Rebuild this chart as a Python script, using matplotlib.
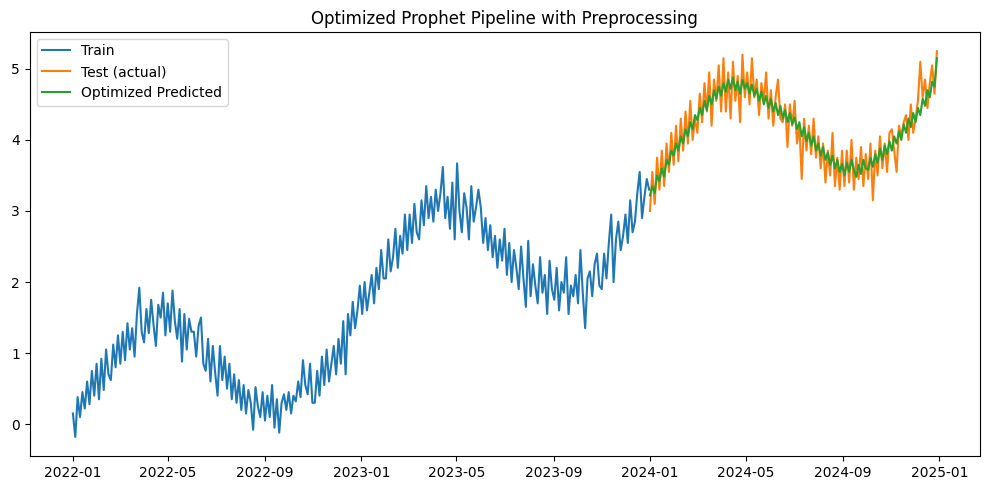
#!/usr/bin/env python3
"""Plot train / test / predicted series of the optimized Prophet pipeline"""
import pandas as pd
import matplotlib
matplotlib.use("Agg")
import matplotlib.pyplot as plt

train_start = "2022-01-01"
train_values = [
    # 2022-01 .. 2022-06
    0.15, -0.18, 0.38, 0.10, 0.45, 0.22, 0.60, 0.28, 0.75, 0.40, 0.85,
    0.35, 0.92, 0.48, 1.05, 0.70, 0.62, 1.12, 0.80, 1.25,
    0.85, 1.30, 0.90, 1.42, 1.05, 1.35, 0.95, 1.55, 1.92, 1.30,
    1.15, 1.62, 1.28, 1.75, 1.40, 1.10, 1.68, 1.50, 1.85, 1.25,
    1.70, 1.30, 1.88, 1.45, 1.20, 1.62, 0.88, 1.55, 1.05, 1.48, 1.30,
    1.30, 0.95, 1.38, 1.50, 0.85, 0.75, 1.20, 0.60, 1.10, 0.72,
    # 2022-07 .. 2022-12
    0.40, 1.10, 0.62, 0.95, 0.50, 0.85, 0.35, 0.70, 0.30, 0.62,
    0.20, 0.55, 0.15, 0.48, 0.30, -0.08, 0.52, 0.25, 0.10, 0.45,
    0.05, 0.40, 0.10, 0.55, -0.05, 0.35, -0.12, 0.30, 0.42, 0.20,
    0.45, 0.15, 0.40, 0.32, 0.60, 0.38, 0.90, 0.55, 0.42, 0.85, 0.30,
    0.30, 0.75, 0.40, 0.95, 0.55, 1.05, 0.60, 0.85, 1.10, 0.70,
    1.20, 0.85, 1.45, 0.70, 1.55, 1.25, 1.72, 1.35, 1.60, 1.95,
    # 2023-01 .. 2023-06
    1.55, 2.00, 1.60, 1.85, 2.10, 1.70, 2.20, 1.90, 2.45, 2.05,
    2.05, 2.60, 2.15, 2.35, 2.75, 2.20, 2.65, 2.40, 2.95,
    2.45, 2.95, 2.55, 3.10, 2.70, 2.60, 3.15, 2.80, 3.35, 2.90, 3.20,
    2.85, 3.30, 3.00, 3.25, 3.62, 2.90, 3.20, 2.75, 3.40, 2.60,
    3.67, 3.00, 2.70, 3.25, 3.05, 2.60, 3.35, 2.85, 3.05, 3.30,
    3.05, 2.55, 2.90, 2.45, 2.80, 2.35, 2.65, 2.20, 2.60, 2.30,
    # 2023-07 .. 2023-12
    2.75, 2.10, 2.55, 2.00, 2.45, 2.20, 1.90, 2.50, 2.05, 1.65, 2.58,
    1.80, 2.25, 1.95, 1.70, 2.35, 1.85, 2.10, 1.55, 2.30, 1.90,
    1.75, 2.20, 1.60, 2.00, 1.85, 2.35, 1.55, 1.95, 1.80, 2.10,
    1.70, 2.45, 1.85, 1.35, 2.05, 2.15, 1.80, 2.25, 2.40, 1.95,
    1.90, 2.40, 2.05, 2.55, 2.95, 2.00, 2.60, 2.85, 2.45, 2.65,
    2.95, 2.55, 3.15, 2.70, 2.85, 3.25, 3.55, 2.90, 3.20, 3.45, 3.30,
]

test_start = "2024-01-01"
test_values = [
    3.00, 3.55, 3.10, 3.75, 3.30, 3.85, 3.35, 3.95, 3.55, 4.10, 3.65,
    4.20, 3.70, 4.30, 3.85, 4.40, 3.95, 4.55, 4.00, 4.30,
    4.10, 4.65, 4.25, 4.80, 4.40, 4.95, 4.20, 4.85, 4.55, 5.05, 4.40,
    5.15, 4.40, 4.95, 4.30, 5.10, 4.55, 4.90, 4.25, 5.20, 4.60,
    4.95, 4.50, 5.15, 4.60, 4.85, 4.35, 4.80, 4.55, 4.95, 4.30,
    4.70, 4.20, 4.60, 4.85, 4.30, 4.25, 4.50, 3.90, 4.50, 4.20,
    4.55, 3.95, 4.20, 3.45, 4.30, 3.85, 4.20, 3.80, 4.30, 3.75,
    4.05, 3.60, 3.95, 3.40, 3.85, 3.50, 4.10, 3.35, 3.75, 3.30, 3.85,
    3.35, 3.85, 3.40, 4.00, 3.30, 3.75, 3.45, 3.90, 3.35, 3.80,
    3.45, 3.95, 3.15, 3.85, 3.50, 4.05, 3.60, 3.95, 3.55, 4.10,
    4.15, 3.85, 3.55, 4.20, 4.05, 4.25, 4.35, 4.00, 4.50, 4.10,
    4.30, 4.55, 5.10, 4.60, 4.85, 4.45, 4.80, 5.05, 4.65, 5.25,
]

pred_values = [
    3.22, 3.35, 3.25, 3.50, 3.42, 3.60, 3.48, 3.72, 3.65, 3.85, 3.78,
    3.95, 3.85, 4.05, 3.95, 4.15, 4.05, 4.25, 4.15, 4.35,
    4.28, 4.45, 4.35, 4.55, 4.42, 4.62, 4.50, 4.70, 4.58, 4.75, 4.62,
    4.80, 4.68, 4.85, 4.72, 4.88, 4.70, 4.82, 4.65, 4.85, 4.72,
    4.80, 4.65, 4.78, 4.62, 4.72, 4.55, 4.68, 4.50, 4.62, 4.45,
    4.58, 4.40, 4.52, 4.35, 4.48, 4.30, 4.42, 4.25, 4.38, 4.22,
    4.32, 4.15, 4.25, 4.05, 4.18, 3.98, 4.10, 3.92, 4.05, 3.85,
    3.95, 3.78, 3.90, 3.72, 3.82, 3.65, 3.78, 3.60, 3.72, 3.55, 3.66,
    3.50, 3.68, 3.55, 3.72, 3.58, 3.48, 3.65, 3.52, 3.72, 3.60,
    3.58, 3.75, 3.62, 3.80, 3.68, 3.88, 3.72, 3.92, 3.80, 3.98,
    3.85, 4.05, 3.95, 4.12, 4.00, 4.22, 4.10, 4.30, 4.18, 4.38,
    4.25, 4.45, 4.35, 4.58, 4.48, 4.70, 4.60, 4.82, 4.75, 5.15,
]

train_dates = pd.date_range(train_start, periods=len(train_values), freq="3D")
test_dates = pd.date_range(test_start, periods=len(test_values), freq="3D")

plt.figure(figsize=(9.9, 4.9), dpi=100)
plt.plot(train_dates, train_values, label="Train")
plt.plot(test_dates, test_values, label="Test (actual)")
plt.plot(test_dates, pred_values, label="Optimized Predicted")
plt.title("Optimized Prophet Pipeline with Preprocessing")
plt.legend(loc="upper left")
# axes box placed as in the reference
plt.subplots_adjust(left=0.030, right=0.990, top=0.935, bottom=0.069)
plt.savefig("out.png")
